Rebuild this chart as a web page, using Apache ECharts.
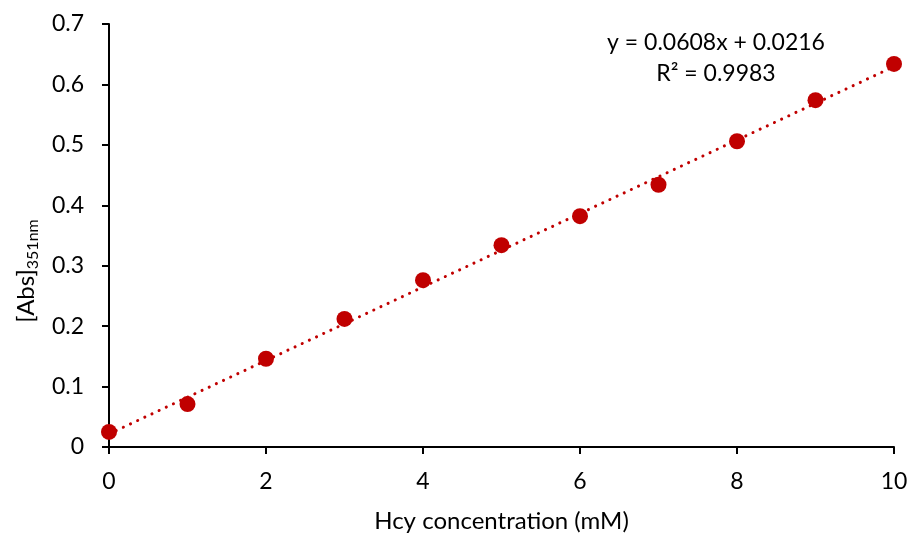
<!DOCTYPE html>
<html>
<head>
<meta charset="utf-8">
<script src="https://cdn.jsdelivr.net/npm/echarts@6/dist/echarts.min.js"></script>
<style>
  html, body { margin: 0; padding: 0; background: #fff; }
  #chart { width: 911px; height: 538px; }
</style>
</head>
<body>
<div id="chart"></div>
<script>
// Hcy concentration (mM) vs absorbance at 351 nm
const concentrations = [0, 1, 2, 3, 4, 5, 6, 7, 8, 9, 10];
const absorbance = [0.025, 0.071, 0.146, 0.212, 0.276, 0.334, 0.382, 0.434, 0.506, 0.574, 0.634];

// Linear fit reported on the chart
const fitSlope = 0.0608;
const fitIntercept = 0.0216;
const fitR2 = 0.9983;
const fitRange = [0, 10];

const font = 'Lato, "Open Sans", "Liberation Sans", sans-serif';
const red = '#C00000';

const chart = echarts.init(document.getElementById('chart'), null, { renderer: 'canvas' });

const points = concentrations.map((c, i) => [c, absorbance[i]]);
const fitLine = fitRange.map(x => [x, fitSlope * x + fitIntercept]);

chart.setOption({
  animation: false,
  backgroundColor: '#ffffff',
  grid: { left: 109, right: 17, top: 24, bottom: 91 },
  xAxis: {
    type: 'value',
    min: 0, max: 10, interval: 2,
    name: 'Hcy concentration (mM)',
    nameLocation: 'middle',
    nameGap: 62,
    nameTextStyle: { fontFamily: font, fontSize: 24, color: '#000' },
    axisLine: { onZero: false, lineStyle: { color: '#000', width: 2 } },
    axisTick: { show: true, length: 7, lineStyle: { color: '#000', width: 2 } },
    axisLabel: { fontFamily: font, fontSize: 23, color: '#000', margin: 23 },
    splitLine: { show: false }
  },
  yAxis: {
    type: 'value',
    min: 0, max: 0.7, interval: 0.1,
    axisLine: { show: true, onZero: false, lineStyle: { color: '#000', width: 2 } },
    axisTick: { show: true, length: 7, lineStyle: { color: '#000', width: 2 } },
    axisLabel: {
      fontFamily: font, fontSize: 23, color: '#000', margin: 25,
      formatter: v => (Math.round(v * 10) / 10).toString()
    },
    splitLine: { show: false }
  },
  series: [
    {
      type: 'line',
      data: fitLine,
      symbol: 'none',
      silent: true,
      z: 1,
      lineStyle: { color: red, width: 3, type: [0.1, 7.8], cap: 'round' }
    },
    {
      type: 'scatter',
      data: points,
      symbol: 'circle',
      symbolSize: 16,
      z: 3,
      itemStyle: { color: red, opacity: 1 }
    }
  ],
  graphic: [
    {
      // y-axis title with subscript wavelength, reading bottom to top
      type: 'text',
      x: 26, y: 271,
      rotation: Math.PI / 2,
      style: {
        text: '[Abs]{sub|351nm}',
        font: '24px ' + font,
        fill: '#000',
        textAlign: 'center',
        textVerticalAlign: 'middle',
        rich: {
          sub: { font: '16px ' + font, fill: '#000', padding: [14, 0, 0, 0] }
        }
      }
    },
    {
      type: 'text',
      x: 716, y: 43,
      style: {
        text: 'y = ' + fitSlope.toFixed(4) + 'x + ' + fitIntercept.toFixed(4),
        font: '23px ' + font,
        fill: '#000',
        textAlign: 'center',
        textVerticalAlign: 'middle'
      }
    },
    {
      type: 'text',
      x: 716, y: 74,
      style: {
        text: 'R\u00B2 = ' + fitR2.toFixed(4),
        font: '23px ' + font,
        fill: '#000',
        textAlign: 'center',
        textVerticalAlign: 'middle'
      }
    }
  ]
});
</script>
</body>
</html>
